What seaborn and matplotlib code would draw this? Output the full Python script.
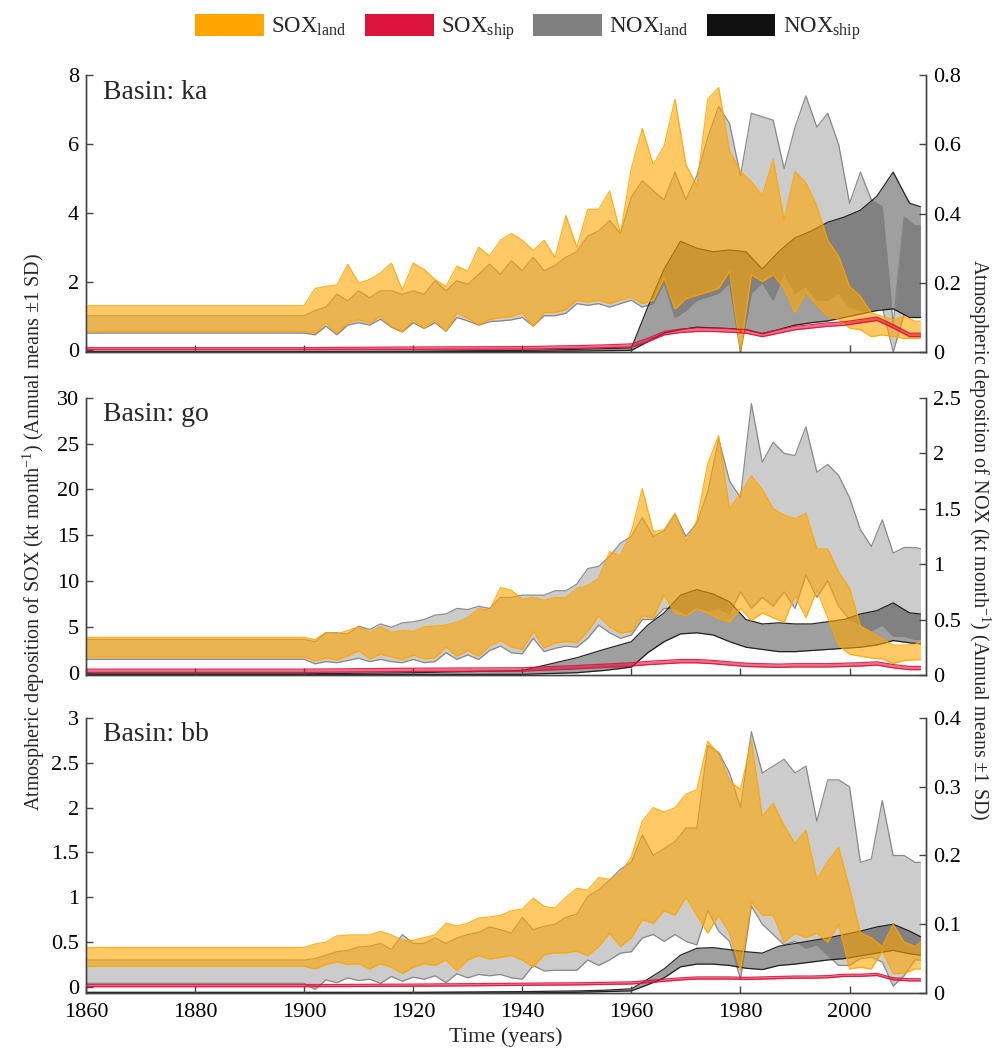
import matplotlib
matplotlib.use("Agg")
import matplotlib.pyplot as plt
import seaborn as sns
from matplotlib.colors import to_rgba
from matplotlib.patches import Patch
from matplotlib.ticker import FuncFormatter

# x positions: land series are annual (read every 2nd year), ship series are smooth
land_years = [1860, 1900] + list(range(1902, 2013, 2)) + [2013]
ship_years = [1860, 1900, 1920, 1940, 1950, 1955, 1960, 1963, 1966, 1969, 1972, 1975,
              1978, 1981, 1984, 1987, 1990, 1993, 1996, 1999, 2002, 2005, 2008, 2011, 2013]

# ---- Basin ka ----
ka_sox_hi = [1.3, 1.3,
             1.8, 1.86, 1.9, 2.5, 1.96,
             2.06, 2.25, 2.54, 1.75, 2.54,
             2.35, 2.06, 1.86, 2.45, 2.3,
             3.0, 2.74, 3.2, 3.4, 3.2,
             2.9, 3.2, 2.7, 3.92, 3.0,
             4.1, 4.1, 4.63, 3.4, 5.3,
             6.45, 5.4, 5.94, 7.3, 5.4,
             4.78, 7.3, 7.64, 5.8, 5.2,
             4.9, 4.5, 5.55, 3.8, 5.2,
             4.87, 4.2, 3.2, 2.74, 1.86,
             1.57, 1.09, 0.99, 0.89, 0.99,
             0.85, 0.85]
ka_sox_lo = [0.55, 0.55,
             0.5, 0.8, 0.5, 0.8, 0.89,
             0.8, 0.99, 0.7, 0.55, 0.89,
             0.65, 0.89, 0.55, 1.09, 0.93,
             0.75, 0.9, 0.95, 0.99, 1.09,
             0.7, 1.1, 1.1, 1.18, 1.46,
             1.4, 1.46, 1.36, 1.46, 1.55,
             1.36, 1.46, 2.1, 1.2, 1.5,
             1.6, 1.7, 1.8, 2.3, 0.0,
             2.2, 2.0, 2.2, 1.8, 1.1,
             1.7, 1.3, 1.0, 0.9, 0.65,
             0.6, 0.4, 0.45, 0.4, 0.35,
             0.35, 0.35]
ka_nox_hi = [0.105, 0.105,
             0.12, 0.13, 0.167, 0.148, 0.177,
             0.157, 0.177, 0.177, 0.167, 0.177,
             0.167, 0.206, 0.177, 0.206, 0.196,
             0.225, 0.254, 0.225, 0.264, 0.235,
             0.274, 0.235, 0.25, 0.274, 0.29,
             0.335, 0.35, 0.38, 0.342, 0.448,
             0.495, 0.466, 0.44, 0.52, 0.44,
             0.51, 0.62, 0.71, 0.66, 0.51,
             0.69, 0.68, 0.67, 0.53, 0.65,
             0.74, 0.65, 0.69, 0.6, 0.43,
             0.52, 0.44, 0.42, 0.08, 0.39,
             0.365, 0.365]
ka_nox_lo = [0.055, 0.055,
             0.05, 0.075, 0.05, 0.078, 0.085,
             0.078, 0.095, 0.072, 0.058, 0.085,
             0.068, 0.085, 0.06, 0.1, 0.09,
             0.078, 0.088, 0.09, 0.093, 0.1,
             0.075, 0.105, 0.105, 0.112, 0.14,
             0.135, 0.14, 0.13, 0.14, 0.15,
             0.13, 0.14, 0.2, 0.10, 0.12,
             0.15, 0.16, 0.17, 0.2, 0.0,
             0.17, 0.2, 0.15, 0.23, 0.17,
             0.19, 0.15, 0.15, 0.17, 0.13,
             0.12, 0.12, 0.13, 0.0, 0.11,
             0.1, 0.1]
ka_noxship_hi = [0.002, 0.002, 0.003, 0.005, 0.008, 0.01, 0.012, 0.13, 0.24, 0.32, 0.30, 0.29,
                 0.295, 0.29, 0.24, 0.29, 0.33, 0.35, 0.375, 0.39, 0.41, 0.45, 0.52, 0.43, 0.42]
ka_noxship_lo = [0.0, 0.0, 0.001, 0.002, 0.003, 0.004, 0.005, 0.03, 0.055, 0.065, 0.072, 0.07,
                 0.068, 0.065, 0.053, 0.065, 0.078, 0.085, 0.09, 0.1, 0.11, 0.12, 0.125, 0.1, 0.1]
ka_soxship_hi = [0.08, 0.08, 0.1, 0.11, 0.14, 0.16, 0.19, 0.35, 0.55, 0.62, 0.65, 0.65,
                 0.63, 0.6, 0.5, 0.6, 0.7, 0.75, 0.8, 0.83, 0.9, 0.97, 0.75, 0.5, 0.5]
ka_soxship_lo = [0.02, 0.02, 0.03, 0.04, 0.06, 0.08, 0.1, 0.25, 0.45, 0.52, 0.55, 0.55,
                 0.53, 0.5, 0.4, 0.5, 0.6, 0.65, 0.7, 0.73, 0.8, 0.87, 0.65, 0.4, 0.4]

# ---- Basin go ----
go_sox_hi = [3.85, 3.85,
             3.6, 4.4, 4.2, 4.6, 5.0,
             4.4, 5.0, 4.4, 4.6, 4.5,
             5.0, 5.1, 5.2, 5.5, 6.0,
             7.0, 6.8, 9.3, 9.0, 8.0,
             8.2, 7.9, 8.2, 8.2, 9.2,
             9.5, 10.3, 13.2, 12.8, 15.4,
             20.1, 15.4, 15.6, 17.4, 14.3,
             16.6, 22.8, 25.9, 17.9, 19.6,
             21.5, 20.0, 17.9, 17.2, 16.8,
             17.4, 13.5, 13.5, 11.0, 9.2,
             5.1, 4.4, 3.7, 3.0, 3.0,
             3.1, 3.3]
go_sox_lo = [1.7, 1.7,
             1.3, 1.6, 1.4, 1.8, 2.4,
             1.5, 2.0, 1.7, 1.4, 1.9,
             1.5, 1.6, 2.8, 1.8, 2.4,
             1.8, 2.9, 3.5, 2.8, 2.5,
             4.5, 2.7, 3.2, 3.4, 3.25,
             4.5, 6.2, 5.0, 4.3, 4.5,
             6.2, 6.0, 8.5, 6.5, 6.2,
             7.0, 6.5, 5.9, 5.5, 7.0,
             5.7, 6.5, 6.0, 5.5, 8.4,
             6.0, 9.0, 6.0, 3.0, 2.0,
             1.8, 1.6, 1.5, 1.0, 1.3,
             1.4, 1.4]
go_nox_hi = [0.32, 0.32,
             0.3, 0.38, 0.38, 0.37, 0.44,
             0.41, 0.46, 0.43, 0.47, 0.48,
             0.5, 0.54, 0.55, 0.6, 0.59,
             0.62, 0.6, 0.70, 0.70, 0.72,
             0.72, 0.72, 0.76, 0.76, 0.82,
             0.96, 0.98, 1.07, 1.19, 1.25,
             1.42, 1.25, 1.3, 1.45, 1.25,
             1.37, 1.65, 2.13, 1.75, 1.6,
             2.45, 1.92, 2.1, 2.0, 1.98,
             2.24, 1.83, 1.9, 1.8, 1.6,
             1.31, 1.16, 1.4, 1.1, 1.15,
             1.15, 1.14]
go_nox_lo = [0.14, 0.14,
             0.1, 0.12, 0.11, 0.13, 0.15,
             0.12, 0.14, 0.12, 0.11, 0.14,
             0.11, 0.12, 0.2, 0.14, 0.18,
             0.14, 0.22, 0.26, 0.2, 0.19,
             0.33, 0.21, 0.24, 0.26, 0.25,
             0.33, 0.45, 0.38, 0.33, 0.36,
             0.5, 0.5, 0.6, 0.6, 0.55,
             0.6, 0.58, 0.6, 0.55, 0.75,
             0.6, 0.7, 0.62, 0.75, 0.6,
             0.9, 0.7, 0.85, 0.62, 0.5,
             0.45, 0.4, 0.45, 0.35, 0.35,
             0.32, 0.32]
go_noxship_hi = [0.01, 0.01, 0.02, 0.04, 0.155, 0.23, 0.3, 0.45, 0.56, 0.72, 0.77, 0.73,
                 0.66, 0.5, 0.46, 0.47, 0.46, 0.46, 0.48, 0.5, 0.55, 0.58, 0.65, 0.56, 0.55]
go_noxship_lo = [0.002, 0.002, 0.003, 0.005, 0.02, 0.04, 0.07, 0.2, 0.3, 0.37, 0.38, 0.36,
                 0.3, 0.25, 0.23, 0.21, 0.21, 0.22, 0.23, 0.24, 0.25, 0.27, 0.31, 0.29, 0.28]
go_soxship_hi = [0.38, 0.38, 0.48, 0.53, 0.78, 0.93, 1.08, 1.23, 1.33, 1.43, 1.43, 1.33,
                 1.18, 1.03, 0.98, 0.93, 0.98, 0.98, 0.98, 1.03, 1.08, 1.18, 0.88, 0.68, 0.68]
go_soxship_lo = [0.02, 0.02, 0.12, 0.17, 0.42, 0.57, 0.72, 0.87, 0.97, 1.07, 1.07, 0.97,
                 0.82, 0.67, 0.62, 0.57, 0.62, 0.62, 0.62, 0.67, 0.72, 0.82, 0.52, 0.32, 0.32]

# ---- Basin bb ----
bb_sox_hi = [0.44, 0.44,
             0.48, 0.5, 0.57, 0.58, 0.58,
             0.58, 0.62, 0.58, 0.52, 0.52,
             0.55, 0.58, 0.71, 0.68, 0.71,
             0.77, 0.78, 0.80, 0.85, 0.87,
             0.99, 0.9, 0.88, 1.0, 1.1,
             1.08, 1.22, 1.2, 1.27, 1.45,
             1.85, 2.0, 1.95, 2.0, 2.15,
             2.2, 2.74, 2.6, 2.3, 2.2,
             2.75, 1.9, 2.05, 1.8, 1.6,
             1.75, 1.2, 1.4, 1.56, 1.1,
             0.6, 0.55, 0.45, 0.7, 0.5,
             0.45, 0.5]
bb_sox_lo = [0.23, 0.23,
             0.2, 0.25, 0.28, 0.25, 0.26,
             0.2, 0.26, 0.22, 0.15, 0.22,
             0.26, 0.24, 0.3, 0.18, 0.3,
             0.35, 0.31, 0.33, 0.35, 0.3,
             0.22, 0.36, 0.38, 0.38, 0.4,
             0.35, 0.45, 0.6, 0.45, 0.55,
             0.75, 0.71, 0.85, 0.8, 1.0,
             0.8, 0.6, 0.8, 0.6, 0.19,
             0.95, 0.8, 0.8, 0.5, 0.6,
             0.55, 0.6, 0.5, 0.7, 0.2,
             0.22, 0.2, 0.4, 0.15, 0.15,
             0.2, 0.2]
bb_nox_hi = [0.048, 0.048,
             0.05, 0.055, 0.06, 0.062, 0.067,
             0.068, 0.072, 0.063, 0.085, 0.072,
             0.072, 0.08, 0.072, 0.08, 0.085,
             0.088, 0.096, 0.092, 0.087, 0.11,
             0.092, 0.097, 0.1, 0.11, 0.115,
             0.14, 0.15, 0.164, 0.18, 0.19,
             0.23, 0.2, 0.21, 0.22, 0.24,
             0.24, 0.36, 0.35, 0.32, 0.27,
             0.38, 0.32, 0.33, 0.34, 0.32,
             0.33, 0.25, 0.31, 0.31, 0.3,
             0.19, 0.195, 0.28, 0.2, 0.2,
             0.19, 0.19]
bb_nox_lo = [0.014, 0.014,
             0.005, 0.019, 0.015, 0.022, 0.018,
             0.02, 0.014, 0.024, 0.017, 0.023,
             0.02, 0.025, 0.015, 0.028, 0.022,
             0.027, 0.025, 0.027, 0.022, 0.02,
             0.04, 0.032, 0.033, 0.033, 0.033,
             0.048, 0.04, 0.048, 0.058, 0.06,
             0.08, 0.085, 0.075, 0.085, 0.075,
             0.07, 0.12, 0.09, 0.075, 0.02,
             0.126, 0.1, 0.085, 0.07, 0.075,
             0.065, 0.07, 0.055, 0.04, 0.04,
             0.05, 0.052, 0.045, 0.01, 0.025,
             0.048, 0.048]
bb_noxship_hi = [0.001, 0.001, 0.001, 0.002, 0.003, 0.004, 0.006, 0.02, 0.035, 0.055, 0.065, 0.066,
                 0.063, 0.06, 0.058, 0.068, 0.072, 0.076, 0.08, 0.085, 0.09, 0.096, 0.1, 0.09, 0.082]
bb_noxship_lo = [0.0, 0.0, 0.0, 0.0, 0.001, 0.002, 0.003, 0.012, 0.022, 0.038, 0.042, 0.042,
                 0.04, 0.036, 0.034, 0.04, 0.042, 0.045, 0.048, 0.05, 0.054, 0.058, 0.062, 0.057, 0.055]
bb_soxship_hi = [0.027, 0.027, 0.032, 0.042, 0.047, 0.052, 0.057, 0.072, 0.087, 0.102, 0.112, 0.112,
                 0.112, 0.107, 0.112, 0.117, 0.122, 0.122, 0.127, 0.142, 0.142, 0.152, 0.102, 0.092, 0.092]
bb_soxship_lo = [0.003, 0.003, 0.008, 0.018, 0.023, 0.028, 0.033, 0.048, 0.063, 0.078, 0.088, 0.088,
                 0.088, 0.083, 0.088, 0.093, 0.098, 0.098, 0.103, 0.118, 0.118, 0.128, 0.078, 0.068, 0.068]

# axis ticks per panel
ka_sox_ticks = [0, 2, 4, 6, 8]
ka_nox_ticks = [0, 0.2, 0.4, 0.6, 0.8]
go_sox_ticks = [0, 5, 10, 15, 20, 25, 30]
go_nox_ticks = [0, 0.5, 1, 1.5, 2, 2.5]
bb_sox_ticks = [0, 0.5, 1, 1.5, 2, 2.5, 3]
bb_nox_ticks = [0, 0.1, 0.2, 0.3, 0.4]
year_ticks = [1860, 1880, 1900, 1920, 1940, 1960, 1980, 2000]

ORANGE = "#FFA500"
RED = "#DC143C"
GRAY = "#808080"
BLACK = "#111111"

sns.set_theme(style="ticks")
plt.rcParams["font.family"] = ["Liberation Serif", "DejaVu Serif"]
plt.rcParams["mathtext.fontset"] = "custom"
plt.rcParams["mathtext.rm"] = "Liberation Serif"
plt.rcParams["mathtext.it"] = "Liberation Serif:italic"
plt.rcParams["xtick.direction"] = "in"
plt.rcParams["ytick.direction"] = "in"


def band(ax, x, lo, hi, color, face_alpha, edge_alpha):
    ax.fill_between(x, lo, hi, facecolor=color, alpha=face_alpha, linewidth=0)
    ec = to_rgba(color, edge_alpha)
    sns.lineplot(x=x, y=lo, ax=ax, color=ec, lw=0.9, estimator=None, sort=False)
    sns.lineplot(x=x, y=hi, ax=ax, color=ec, lw=0.9, estimator=None, sort=False)


fmt = FuncFormatter(lambda v, p: f"{v:g}")

panels = [
    ("ka", 0.664, 0.2643, (-0.05, 8), (0, 0.8), ka_sox_ticks, ka_nox_ticks,
     ka_sox_lo, ka_sox_hi, ka_nox_lo, ka_nox_hi,
     ka_noxship_lo, ka_noxship_hi, ka_soxship_lo, ka_soxship_hi),
    ("go", 0.356, 0.2643, (-0.25, 30), (0, 2.5), go_sox_ticks, go_nox_ticks,
     go_sox_lo, go_sox_hi, go_nox_lo, go_nox_hi,
     go_noxship_lo, go_noxship_hi, go_soxship_lo, go_soxship_hi),
    ("bb", 0.0525, 0.2624, (-0.067, 3), (0, 0.4), bb_sox_ticks, bb_nox_ticks,
     bb_sox_lo, bb_sox_hi, bb_nox_lo, bb_nox_hi,
     bb_noxship_lo, bb_noxship_hi, bb_soxship_lo, bb_soxship_hi),
]

fig = plt.figure(figsize=(9.94, 10.48), dpi=100)

for i, (name, bottom, height, slim, nlim, sticks, nticks,
        s_lo, s_hi, n_lo, n_hi, ns_lo, ns_hi, ss_lo, ss_hi) in enumerate(panels):
    ax = fig.add_axes([0.0865, bottom, 0.845, height])
    ax2 = ax.twinx()
    # NOX on the right axis, underneath
    band(ax2, land_years, n_lo, n_hi, GRAY, 0.4, 0.9)
    band(ax2, ship_years, ns_lo, ns_hi, BLACK, 0.4, 0.9)
    # SOX on the left axis, on top
    band(ax, land_years, s_lo, s_hi, ORANGE, 0.6, 0.85)
    band(ax, ship_years, ss_lo, ss_hi, RED, 0.6, 0.9)
    ax.set_zorder(ax2.get_zorder() + 1)
    ax.patch.set_visible(False)

    ax.set_xlim(1860, 2014)
    ax.set_ylim(*slim)
    ax2.set_ylim(*nlim)
    ax.set_xticks(year_ticks)
    ax.set_yticks(sticks)
    ax2.set_yticks(nticks)
    ax.yaxis.set_major_formatter(fmt)
    ax2.yaxis.set_major_formatter(fmt)
    ax.set_xlabel("")
    ax.set_ylabel("")
    ax2.set_ylabel("")
    for a in (ax, ax2):
        a.spines["top"].set_visible(False)
        for s in a.spines.values():
            s.set_color("#444444")
            s.set_linewidth(1.0)
        a.tick_params(labelsize=16, length=5, width=1.0, color="#444444", labelcolor="black")
    ax.tick_params(axis="y", pad=5)
    ax2.tick_params(axis="y", pad=5)
    ax.tick_params(axis="x", pad=7, labelbottom=(i == 2))
    ax.text(0.02, 0.915, f"Basin: {name}", transform=ax.transAxes,
            fontsize=20, va="baseline", ha="left")

handles = [Patch(facecolor=ORANGE, edgecolor="none", label=r"SOX$_{\mathrm{land}}$"),
           Patch(facecolor=RED, edgecolor="none", label=r"SOX$_{\mathrm{ship}}$"),
           Patch(facecolor=GRAY, edgecolor="none", label=r"NOX$_{\mathrm{land}}$"),
           Patch(facecolor=BLACK, edgecolor="none", label=r"NOX$_{\mathrm{ship}}$")]
fig.legend(handles=handles, loc="upper center", bbox_to_anchor=(0.531, 1.0), ncol=4,
           frameon=False, fontsize=16.5, handlelength=3.0, handleheight=1.1,
           handletextpad=0.32, columnspacing=0.8, borderaxespad=0.2)

fig.text(0.034, 0.492, r"Atmospheric deposition of SOX (kt month$^{-1}$) (Annual means $\pm$1 SD)",
         rotation=90, ha="center", va="center", fontsize=14.5)
fig.text(0.985, 0.485, r"Atmospheric deposition of NOX (kt month$^{-1}$) (Annual means $\pm$1 SD)",
         rotation=270, ha="center", va="center", fontsize=14.5)
fig.text(0.509, 0.0105, "Time (years)", ha="center", va="center", fontsize=16)

fig.savefig("out.png", dpi=100)
